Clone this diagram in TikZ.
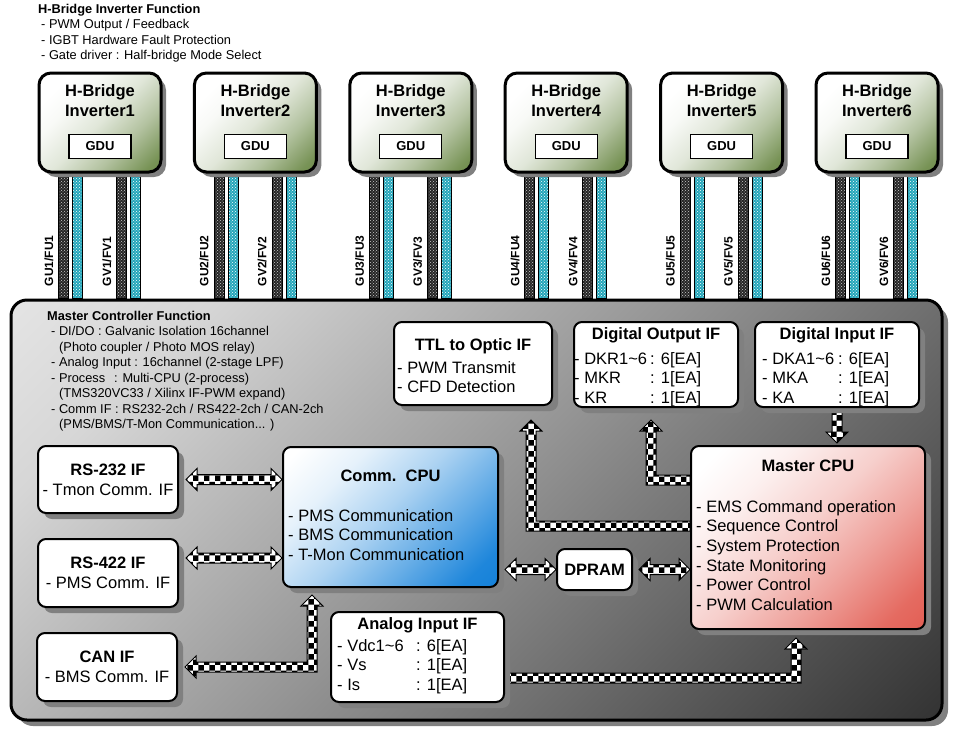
\documentclass[tikz,border=0pt]{standalone}
\usepackage{fontspec}
\setmainfont{Liberation Sans}
\usetikzlibrary{shadows, patterns, calc}

\definecolor{invgreen}{RGB}{86,120,44}
\definecolor{commblue}{RGB}{0,118,214}
\definecolor{cpured}{RGB}{222,70,58}
\definecolor{cablecyan}{RGB}{36,166,186}

% diagonal fills (0bp = bottom right corner, 100bp = top left corner)
\pgfdeclareverticalshading{panelshade}{100bp}{color(0bp)=(black!95); color(10bp)=(black!85);
  color(28bp)=(black!66); color(50bp)=(black!42); color(75bp)=(black!16); color(100bp)=(black!3)}
\pgfdeclareverticalshading{invshade}{100bp}{color(0bp)=(invgreen); color(20bp)=(invgreen!80);
  color(35bp)=(invgreen!45); color(50bp)=(invgreen!18); color(65bp)=(invgreen!4); color(75bp)=(white); color(100bp)=(white)}
\pgfdeclareverticalshading{commshade}{100bp}{color(0bp)=(commblue); color(22bp)=(commblue!88);
  color(38bp)=(commblue!58); color(52bp)=(commblue!32); color(68bp)=(commblue!10); color(82bp)=(white); color(100bp)=(white)}
\pgfdeclareverticalshading{cpushade}{100bp}{color(0bp)=(cpured); color(22bp)=(cpured!80);
  color(38bp)=(cpured!50); color(52bp)=(cpured!26); color(68bp)=(cpured!8); color(80bp)=(white); color(100bp)=(white)}

\pgfdeclarelayer{cables}
\pgfdeclarelayer{panel}
\pgfdeclarelayer{arrows}
\pgfsetlayers{cables,panel,arrows,main}

\newcommand{\smallfont}{\fontsize{12.8}{15.5}\selectfont}
\newcommand{\boxfont}{\fontsize{16.5}{19.7}\selectfont}

% checkered double arrow, height taken from the left end
\newcommand{\dblarrowh}[2]{%
  \draw[fatarrow] let \p1=(#1), \p2=(#2) in
    (\x1,\y1) -- (\x1+11pt,\y1+11pt) -- (\x1+11pt,\y1+5pt) -- (\x2-11pt,\y1+5pt)
    -- (\x2-11pt,\y1+11pt) -- (\x2,\y1) -- (\x2-11pt,\y1-11pt) -- (\x2-11pt,\y1-5pt)
    -- (\x1+11pt,\y1-5pt) -- (\x1+11pt,\y1-11pt) -- cycle;}
% checkered elbow arrow: start, corner, tip (tip above the corner)
\newcommand{\elbowarrow}[3]{%
  \draw[fatarrow] let \p1=(#1), \p2=(#2), \p3=(#3), \n1={sign(\x1-\x2)} in
    (\x1,\y2-5pt) -- ({\x2-(\n1)*5pt},\y2-5pt) -- ({\x2-(\n1)*5pt},\y3-11pt)
    -- ({\x2-(\n1)*11pt},\y3-11pt) -- (\x2,\y3) -- ({\x2+(\n1)*11pt},\y3-11pt)
    -- ({\x2+(\n1)*5pt},\y3-11pt) -- ({\x2+(\n1)*5pt},\y2+5pt) -- (\x1,\y2+5pt) -- cycle;}

\begin{document}
\begin{tikzpicture}[x=1pt, y=-1pt,
  shadowed/.style={drop shadow={opacity=1, shadow xshift=#1, shadow yshift=-#1}},
  shadowed/.default=6pt,
  masterbox/.style={rounded corners=16pt, draw, line width=3pt, anchor=north west,
    minimum width=931pt, minimum height=420pt, shadowed=6pt,
    shade, shading=panelshade, shading angle=45},
  invbox/.style={rounded corners=12pt, draw, line width=3pt, anchor=north west,
    minimum width=122pt, minimum height=99pt, shadowed=5pt,
    shade, shading=invshade, shading angle=45},
  ifbox/.style={rounded corners=8pt, draw, line width=2pt, fill=white, anchor=north west,
    inner sep=1pt, align=center, font=\boxfont, shadowed},
  gdubox/.style={draw, line width=1.2pt, fill=white, minimum width=62pt, minimum height=24pt,
    inner sep=0pt, font=\fontsize{13}{15}\selectfont\bfseries},
  invtitle/.style={align=center, inner sep=0pt, font=\boxfont\bfseries},
  titletext/.style={inner sep=0pt, font=\boxfont\bfseries},
  listtext/.style={anchor=north west, align=left, inner sep=0pt, font=\boxfont},
  notetext/.style={anchor=north west, align=left, inner sep=0pt, font=\smallfont},
  cablelabel/.style={rotate=90, anchor=south west, inner sep=0pt,
    font=\fontsize{12}{14}\selectfont\bfseries},
  blackcable/.style={draw, line width=.8pt, preaction={fill=black!85},
    pattern=crosshatch dots, pattern color=white!80!black},
  cyancable/.style={draw, line width=.8pt, preaction={fill=cablecyan},
    pattern=crosshatch dots, pattern color=white},
  fatarrow/.style={draw, line width=1pt, preaction={fill=white},
    pattern=checkerboard, pattern color=black}]

  \useasboundingbox (0,0) rectangle (953,732);

  % master controller panel
  \begin{pgfonlayer}{panel}
    \node[masterbox] (mc) at (9.5,298.5) {};
  \end{pgfonlayer}

  \node[notetext] (hbnote) at (38,4) {\textbf{H-Bridge Inverter Function}\\
    \hspace*{3pt}- PWM Output / Feedback\\
    \hspace*{3pt}- IGBT Hardware Fault Protection\\
    \hspace*{3pt}- Gate driver : Half-bridge Mode Select};

  % inverters with their fibre pairs
  \foreach \i in {1,...,6}{
    \pgfmathsetmacro{\xl}{36+155.4*(\i-1)}
    \node[invbox] (inv\i) at (\xl+1.5,71.5) {};
    \node[invtitle] (invt\i) at ([yshift=-29pt]inv\i.north) {H-Bridge\\Inverter\i};
    \node[gdubox] (gdu\i) at ([yshift=-75pt]inv\i.north) {GDU};
    \foreach \dx/\ph in {21/U,79/V}{
      \begin{pgfonlayer}{cables}
        \draw[blackcable] let \p1=(inv\i.south west), \p2=(mc.north) in
          (\x1+\dx*1pt,\y1) rectangle (\x1+\dx*1pt+10pt,\y2);
        \draw[cyancable] let \p1=(inv\i.south west), \p2=(mc.north) in
          (\x1+\dx*1pt+14pt,\y1) rectangle (\x1+\dx*1pt+24pt,\y2);
      \end{pgfonlayer}
      \path let \p1=(inv\i.south west), \p2=(mc.north) in
        node[cablelabel] (lab\ph\i) at (\x1+\dx*1pt-5pt,\y2+12pt) {G\ph\i/F\ph\i};
    }
  }

  \node[notetext] (mcnote) at (47,311) {\textbf{Master Controller Function}\\
    \hspace*{4pt}- DI/DO : Galvanic Isolation 16channel\\
    \hspace*{12pt}(Photo coupler / Photo MOS relay)\\
    \hspace*{4pt}- Analog Input : 16channel (2-stage LPF)\\
    \hspace*{4pt}- Process\hspace{9pt}: Multi-CPU (2-process)\\
    \hspace*{12pt}(TMS320VC33 / Xilinx IF-PWM expand)\\
    \hspace*{4pt}- Comm IF : RS232-2ch / RS422-2ch / CAN-2ch\\
    \hspace*{12pt}(PMS/BMS/T-Mon Communication... )};

  % interface boxes
  \node[ifbox, minimum width=158pt, minimum height=83pt] (ttl) at (393,321) {};
  \node[titletext] (ttlt) at ([yshift=-25pt]ttl.north) {TTL to Optic IF};
  \node[listtext] (ttll) at ([xshift=4pt,yshift=-40pt]ttl.north west)
    {- PWM Transmit\\- CFD Detection};

  \node[ifbox, minimum width=164pt, minimum height=85pt] (dout) at (573,321) {};
  \node[titletext] (doutt) at ([yshift=-14pt]dout.north) {Digital Output IF};
  \node[listtext] (doutl) at ([xshift=1pt,yshift=-31pt]dout.north west)
    {\makebox[76pt][l]{- DKR1\textasciitilde 6}: 6[EA]\\
     \makebox[76pt][l]{- MKR}: 1[EA]\\
     \makebox[76pt][l]{- KR}: 1[EA]};

  \node[ifbox, minimum width=164pt, minimum height=85pt] (din) at (754,321) {};
  \node[titletext] (dint) at ([yshift=-14pt]din.north) {Digital Input IF};
  \node[listtext] (dinl) at ([xshift=8pt,yshift=-31pt]din.north west)
    {\makebox[76pt][l]{- DKA1\textasciitilde 6}: 6[EA]\\
     \makebox[76pt][l]{- MKA}: 1[EA]\\
     \makebox[76pt][l]{- KA}: 1[EA]};

  \node[ifbox, minimum width=140pt, minimum height=67pt] (rs232) at (37,445)
    {\textbf{RS-232 IF}\\- Tmon Comm. IF};
  \node[ifbox, minimum width=140pt, minimum height=68pt] (rs422) at (37,538)
    {\textbf{RS-422 IF}\\- PMS Comm. IF};
  \node[ifbox, minimum width=140pt, minimum height=68pt] (can) at (36,632)
    {\textbf{CAN IF}\\- BMS Comm. IF};

  \node[ifbox, minimum width=215pt, minimum height=140pt,
    shade, shading=commshade, shading angle=45] (cpu) at (282,446) {};
  \node[titletext] (cput) at ([yshift=-30pt]cpu.north) {Comm.\ \ CPU};
  \node[listtext] (cpul) at ([xshift=6pt,yshift=-63pt]cpu.north west)
    {- PMS Communication\\- BMS Communication\\- T-Mon Communication};

  \node[ifbox, minimum width=75pt, minimum height=41pt, font=\boxfont\bfseries] (dpram) at (556,548) {DPRAM};

  \node[ifbox, minimum width=234pt, minimum height=183pt,
    shade, shading=cpushade, shading angle=45] (mcpu) at (690,445) {};
  \node[titletext] (mcput) at ([yshift=-21pt]mcpu.north) {Master CPU};
  \node[listtext] (mcpul) at ([xshift=6pt,yshift=-55pt]mcpu.north west)
    {- EMS Command operation\\- Sequence Control\\- System Protection\\
     - State Monitoring\\- Power Control\\- PWM Calculation};

  \node[ifbox, minimum width=173pt, minimum height=90pt] (analog) at (330,611) {};
  \node[titletext] (analogt) at ([yshift=-14pt]analog.north) {Analog Input IF};
  \node[listtext] (analogl) at ([xshift=7pt,yshift=-28pt]analog.north west)
    {\makebox[79pt][l]{- Vdc1\textasciitilde 6}: 6[EA]\\
     \makebox[79pt][l]{- Vs}: 1[EA]\\
     \makebox[79pt][l]{- Is}: 1[EA]};

  % checkered links
  \coordinate (cantip) at ([xshift=7pt]can.east);
  \coordinate (cputip) at ([xshift=30pt,yshift=-7pt]cpu.south west);
  \coordinate (ansrc) at ([yshift=-21pt]analog.east);
  \coordinate (antip) at ([xshift=106pt,yshift=-8pt]mcpu.south west);
  \coordinate (ttlsrc) at ([yshift=-81pt]mcpu.north west);
  \coordinate (ttltip) at ([xshift=58pt,yshift=-14pt]ttl.south);
  \coordinate (doutsrc) at ([yshift=-35pt]mcpu.north west);
  \coordinate (douttip) at ([xshift=-5pt,yshift=-12pt]dout.south);
  \coordinate (dintip) at (din.south |- mcpu.north);

  \begin{pgfonlayer}{arrows}
    \dblarrowh{[xshift=7pt]rs232.east}{cpu.west}
    \dblarrowh{[xshift=7pt,yshift=15pt]rs422.east}{cpu.west}
    \dblarrowh{[xshift=6pt]cpu.east |- dpram.west}{dpram.west}
    \dblarrowh{[xshift=6pt]dpram.east}{mcpu.west}
    \draw[fatarrow] let \p1=(cantip), \p2=(cputip |- cantip), \p3=(cputip) in
      (\x1,\y1) -- (\x1+11pt,\y1+11pt) -- (\x1+11pt,\y1+5pt) -- (\x2-5pt,\y1+5pt)
      -- (\x2-5pt,\y3-11pt) -- (\x2-11pt,\y3-11pt) -- (\x2,\y3) -- (\x2+11pt,\y3-11pt)
      -- (\x2+5pt,\y3-11pt) -- (\x2+5pt,\y1-5pt) -- (\x1+11pt,\y1-5pt) -- (\x1+11pt,\y1-11pt) -- cycle;
    \elbowarrow{ansrc}{antip |- ansrc}{antip}
    \elbowarrow{ttlsrc}{ttltip |- ttlsrc}{ttltip}
    \elbowarrow{doutsrc}{douttip |- doutsrc}{douttip}
    \draw[fatarrow] let \p1=(din.south), \p2=(dintip) in
      (\x2-5pt,\y1) -- (\x2-5pt,\y2+13pt) -- (\x2-11pt,\y2+13pt) -- (\x2,\y2+2pt)
      -- (\x2+11pt,\y2+13pt) -- (\x2+5pt,\y2+13pt) -- (\x2+5pt,\y1) -- cycle;
  \end{pgfonlayer}
\end{tikzpicture}
\end{document}
